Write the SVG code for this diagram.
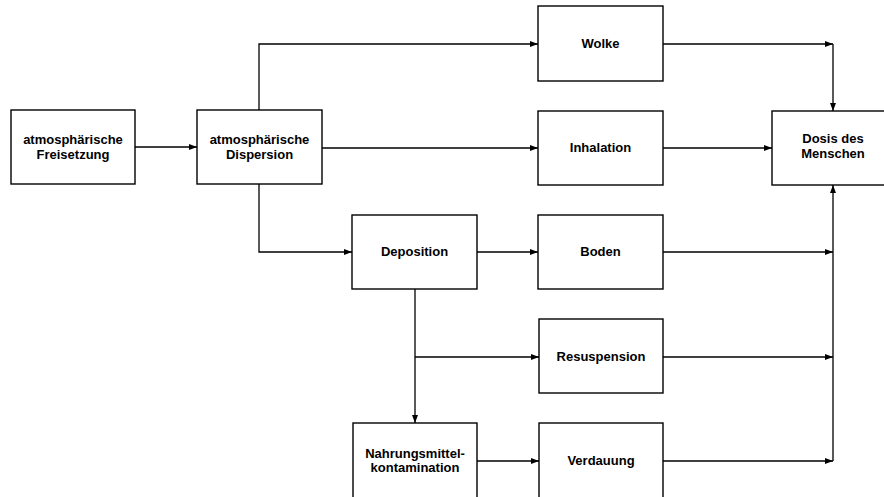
<svg xmlns="http://www.w3.org/2000/svg" width="884" height="497" viewBox="0 0 884 497">
  <defs>
    <marker id="arrow" markerWidth="8" markerHeight="6" refX="8" refY="3" orient="auto" markerUnits="userSpaceOnUse">
      <path d="M0,0 L8,3 L0,6 Z" fill="#000"/>
    </marker>
    <style>
      .box { fill: #fff; stroke: #000; stroke-width: 1.4; }
      .lbl { font-family: "Liberation Sans", Arial, sans-serif; font-size: 13px; font-weight: bold; fill: #000; text-anchor: middle; }
      .edge { fill: none; stroke: #000; stroke-width: 1.3; }
    </style>
  </defs>
  <rect width="884" height="497" fill="#fff"/>

  <!-- connectors -->
  <g id="connectors">
    <path class="edge" d="M135,147 H197" marker-end="url(#arrow)"/>
    <path class="edge" d="M259,110 V44 H538" marker-end="url(#arrow)"/>
    <path class="edge" d="M322,148 H538" marker-end="url(#arrow)"/>
    <path class="edge" d="M259,184 V252 H352" marker-end="url(#arrow)"/>
    <path class="edge" d="M477,252 H538" marker-end="url(#arrow)"/>
    <path class="edge" d="M415,289 V423" marker-end="url(#arrow)"/>
    <path class="edge" d="M415,357 H539" marker-end="url(#arrow)"/>
    <path class="edge" d="M477,461 H539" marker-end="url(#arrow)"/>
    <path class="edge" d="M663,44 H833" marker-end="url(#arrow)"/>
    <path class="edge" d="M833,44 V111" marker-end="url(#arrow)"/>
    <path class="edge" d="M663,148 H772" marker-end="url(#arrow)"/>
    <path class="edge" d="M663,252 H833" marker-end="url(#arrow)"/>
    <path class="edge" d="M663,357 H833" marker-end="url(#arrow)"/>
    <path class="edge" d="M663,461 H833" marker-end="url(#arrow)"/>
    <path class="edge" d="M833,461 V185" marker-end="url(#arrow)"/>
  </g>

  <!-- nodes -->
  <g id="freisetzung">
    <rect class="box" x="11" y="110" width="124" height="74"/>
    <text class="lbl" x="73" y="144">atmosphärische</text>
    <text class="lbl" x="73" y="159">Freisetzung</text>
  </g>
  <g id="dispersion">
    <rect class="box" x="197" y="110" width="125" height="74"/>
    <text class="lbl" x="259.5" y="144">atmosphärische</text>
    <text class="lbl" x="259.5" y="159">Dispersion</text>
  </g>
  <g id="wolke">
    <rect class="box" x="538" y="6" width="125" height="75"/>
    <text class="lbl" x="600.5" y="48">Wolke</text>
  </g>
  <g id="inhalation">
    <rect class="box" x="538" y="111" width="125" height="74"/>
    <text class="lbl" x="600.5" y="152">Inhalation</text>
  </g>
  <g id="dosis">
    <rect class="box" x="772" y="111" width="124" height="74"/>
    <text class="lbl" x="833" y="143">Dosis des</text>
    <text class="lbl" x="833" y="158">Menschen</text>
  </g>
  <g id="deposition">
    <rect class="box" x="352" y="215" width="125" height="74"/>
    <text class="lbl" x="414.5" y="256">Deposition</text>
  </g>
  <g id="boden">
    <rect class="box" x="538" y="215" width="125" height="74"/>
    <text class="lbl" x="600.5" y="256">Boden</text>
  </g>
  <g id="resuspension">
    <rect class="box" x="539" y="319" width="124" height="74"/>
    <text class="lbl" x="601" y="361">Resuspension</text>
  </g>
  <g id="nahrung">
    <rect class="box" x="353" y="423" width="124" height="76"/>
    <text class="lbl" x="415" y="458">Nahrungsmittel-</text>
    <text class="lbl" x="415" y="472">kontamination</text>
  </g>
  <g id="verdauung">
    <rect class="box" x="539" y="423" width="124" height="76"/>
    <text class="lbl" x="601" y="465">Verdauung</text>
  </g>
</svg>
